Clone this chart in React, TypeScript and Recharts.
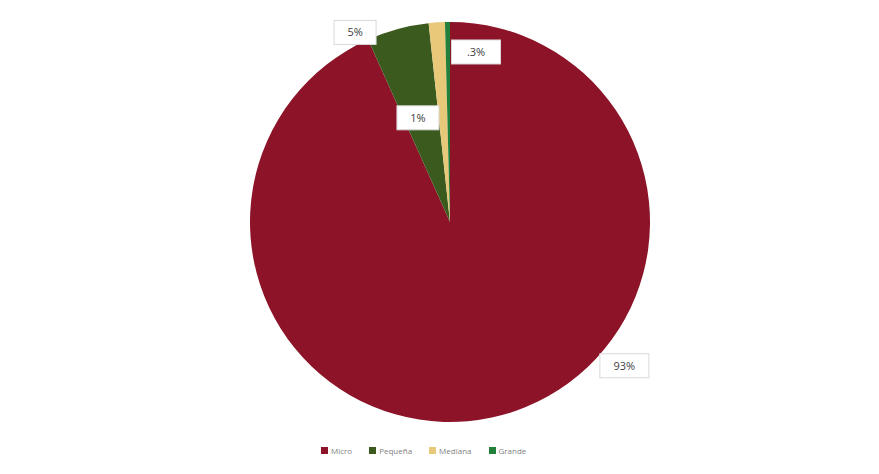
import { PieChart, Pie, Cell, Legend } from 'recharts';

const categories = ['Micro', 'Pequeña', 'Mediana', 'Grande'];
const shares = [93, 5, 1.3, 0.4];
const shareLabels = ['93%', '5%', '1%', '.3%'];
const colors = ['#8c1328', '#3a5a1e', '#e8c97a', '#23803a'];

const data = categories.map((name, i) => ({ name, value: shares[i] }));

// label placement per slice: angle clockwise from 12 o'clock, distance from centre
const labelSpots = [
  { deg: 129.5, dist: 226 },
  { deg: -26.6, dist: 212 },
  { deg: -17.1, dist: 109 },
  { deg: 8.7, dist: 172 },
];

const renderLabel = (props: any) => {
  const { cx, cy, index } = props;
  const spot = labelSpots[index];
  const rad = (spot.deg * Math.PI) / 180;
  const x = cx + spot.dist * Math.sin(rad);
  const y = cy - spot.dist * Math.cos(rad);
  const text = shareLabels[index];
  const w = text.length * 7 + 28;
  const h = 24;
  return (
    <g key={`lbl-${index}`}>
      <rect x={x - w / 2} y={y - h / 2} width={w} height={h} fill="#ffffff" stroke="#d9d9d9" strokeWidth={1} />
      <text x={x} y={y + 4} textAnchor="middle" fontSize={11} fill="#404040" fontFamily="'Open Sans', sans-serif">
        {text}
      </text>
    </g>
  );
};

const renderLegend = () => (
  <div style={{ display: 'flex', justifyContent: 'flex-start', fontFamily: "'Open Sans', sans-serif", fontSize: 8, color: '#7f7f7f' }}>
    {categories.map((c, i) => (
      <span key={c} style={{ display: 'inline-flex', alignItems: 'center', marginRight: 17 }}>
        <span style={{ display: 'inline-block', width: 7, height: 7, background: colors[i], marginRight: 3 }} />
        {c}
      </span>
    ))}
  </div>
);

export default function App() {
  return (
    <div style={{ margin: -8, width: 879, height: 474, background: '#f7f5ef', position: 'relative' }}>
      <div style={{ position: 'absolute', left: 7, top: 4, width: 866, height: 465, background: '#ffffff', border: '1px solid #e3e3e3' }} />
      <div style={{ position: 'absolute', left: 0, top: 0 }}>
        <PieChart width={879} height={474}>
          <Pie
            data={data}
            dataKey="value"
            nameKey="name"
            cx={445}
            cy={217}
            outerRadius={200}
            startAngle={90}
            endAngle={-270}
            stroke="none"
            label={renderLabel}
            labelLine={false}
            isAnimationActive={false}
          >
            {data.map((d, i) => (
              <Cell key={d.name} fill={colors[i]} />
            ))}
          </Pie>
          <Legend content={renderLegend} wrapperStyle={{ left: 321, top: 445, width: 300 }} />
        </PieChart>
      </div>
    </div>
  );
}
